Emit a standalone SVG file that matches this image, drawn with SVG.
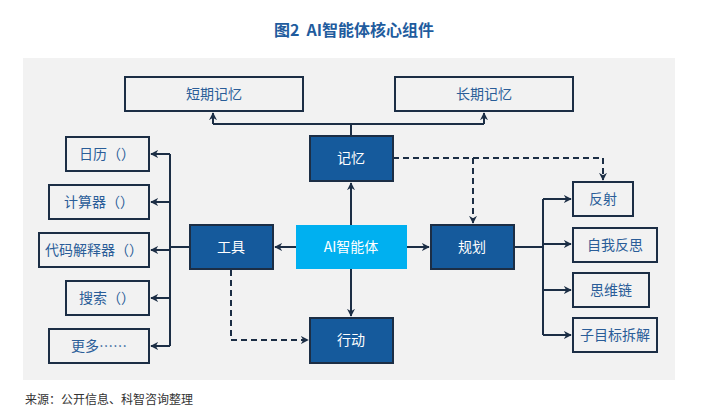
<svg xmlns="http://www.w3.org/2000/svg" width="708" height="420" viewBox="0 0 708 420">
<defs>
<style>
text{font-family:"Noto Sans CJK SC","Liberation Sans",sans-serif;}
.w{fill:#f2f2f2;stroke:#1c2e45;stroke-width:2}
.d{fill:#155a9c;stroke:#1c2e45;stroke-width:2}
.tw{fill:#2a5d98;font-size:14px;text-anchor:middle}
.td{fill:#fff;font-size:14px;text-anchor:middle}
.l{fill:none;stroke:#1c2e45;stroke-width:2}
.ds{fill:none;stroke:#1c2e45;stroke-width:2;stroke-dasharray:6,4}
</style>
<marker id="a" viewBox="0 0 10 10" refX="9" refY="5" markerWidth="4" markerHeight="4" orient="auto"><path d="M0,0L10,5L0,10L3,5z" fill="#1c2e45"/></marker>
</defs>
<rect width="708" height="420" fill="#fff"/>
<rect x="23" y="58" width="652" height="322" fill="#f2f2f2"/>
<text x="354" y="36" text-anchor="middle" xml:space="preserve" style="font-size:16px;font-weight:bold;fill:#1f5c9e;white-space:pre">图2  AI智能体核心组件</text>
<text x="25" y="404" style="font-size:12px;fill:#333">来源：公开信息、科智咨询整理</text>
<g id="connectors">
<path class="l" d="M351,136V124M213,124H484M213,124V113" marker-end="url(#a)"/>
<path class="l" d="M484,124V113" marker-end="url(#a)"/>
<path class="l" d="M351,225V183" marker-end="url(#a)"/>
<path class="l" d="M351,269V316" marker-end="url(#a)"/>
<path class="l" d="M296,247H275" marker-end="url(#a)"/>
<path class="l" d="M407,247H429" marker-end="url(#a)"/>
<path class="l" d="M190,247H170M170,154V346"/>
<path class="l" d="M170,154H151" marker-end="url(#a)"/>
<path class="l" d="M170,202H151" marker-end="url(#a)"/>
<path class="l" d="M170,250H151" marker-end="url(#a)"/>
<path class="l" d="M170,298H151" marker-end="url(#a)"/>
<path class="l" d="M170,346H151" marker-end="url(#a)"/>
<path class="l" d="M514,247H543M543,199V335"/>
<path class="l" d="M543,199H571" marker-end="url(#a)"/>
<path class="l" d="M543,244H571" marker-end="url(#a)"/>
<path class="l" d="M543,290H571" marker-end="url(#a)"/>
<path class="l" d="M543,335H571" marker-end="url(#a)"/>
<path class="ds" d="M393,158H603V180" marker-end="url(#a)"/>
<path class="ds" d="M473,158V223" marker-end="url(#a)"/>
<path class="ds" d="M231,270V340H308" marker-end="url(#a)"/>
</g>
<g id="short"><rect class="w" x="125" y="77" width="178" height="34"/><text class="tw" x="214" y="99">短期记忆</text></g>
<g id="long"><rect class="w" x="395" y="77" width="178" height="34"/><text class="tw" x="484" y="99">长期记忆</text></g>
<g id="memory"><rect class="d" x="310" y="136" width="83" height="45"/><text class="td" x="351" y="163">记忆</text></g>
<g id="tools"><rect class="d" x="190" y="225" width="83" height="44"/><text class="td" x="231" y="252">工具</text></g>
<g id="agent"><rect x="296" y="225" width="111" height="44" fill="#00b0f0"/><text class="td" x="351" y="252">AI智能体</text></g>
<g id="plan"><rect class="d" x="431" y="225" width="83" height="44"/><text class="td" x="472" y="252">规划</text></g>
<g id="action"><rect class="d" x="310" y="318" width="83" height="45"/><text class="td" x="351" y="345">行动</text></g>
<g id="cal"><rect class="w" x="66" y="137" width="83" height="34"/><text class="tw" x="107" y="159">日历（）</text></g>
<g id="calc"><rect class="w" x="49" y="185" width="100" height="34"/><text class="tw" x="99" y="207">计算器（）</text></g>
<g id="code"><rect class="w" x="39" y="233" width="110" height="34"/><text class="tw" x="94" y="255">代码解释器（）</text></g>
<g id="search"><rect class="w" x="66" y="281" width="83" height="34"/><text class="tw" x="107" y="303">搜索（）</text></g>
<g id="more"><rect class="w" x="49" y="329" width="100" height="34"/><text class="tw" x="99" y="351">更多……</text></g>
<g id="reflect"><rect class="w" x="573" y="182" width="60" height="34"/><text class="tw" x="603" y="204">反射</text></g>
<g id="selfreflect"><rect class="w" x="573" y="228" width="84" height="34"/><text class="tw" x="615" y="250">自我反思</text></g>
<g id="cot"><rect class="w" x="573" y="273" width="76" height="34"/><text class="tw" x="611" y="295">思维链</text></g>
<g id="subgoal"><rect class="w" x="573" y="318" width="84" height="34"/><text class="tw" x="615" y="340">子目标拆解</text></g>
</svg>
